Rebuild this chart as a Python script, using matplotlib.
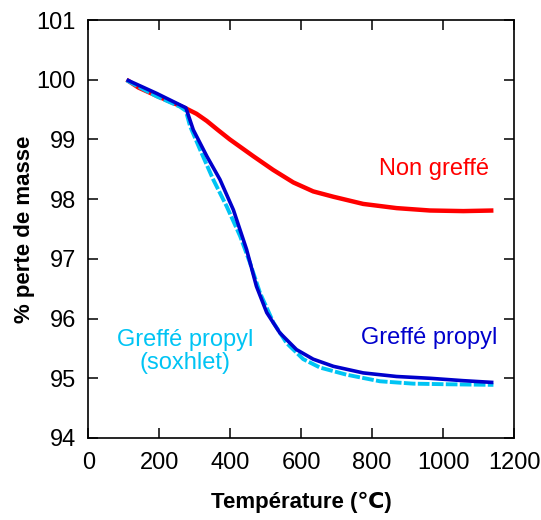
import numpy as np
import matplotlib
matplotlib.use("Agg")
import matplotlib.pyplot as plt

plt.rcParams['font.family'] = ['Liberation Sans', 'DejaVu Sans']

# temperature (C) and mass (%)
t_non = [108, 141, 193, 240, 275, 305, 334, 365, 399, 432, 465, 521, 578, 634, 691, 775, 869, 963, 1057, 1142]
m_non = [100.0, 99.87, 99.73, 99.61, 99.52, 99.43, 99.31, 99.16, 99.0, 98.86, 98.72, 98.49, 98.28, 98.13, 98.04, 97.92, 97.85, 97.81, 97.80, 97.81]

t_prop = [108, 193, 275, 296, 334, 371, 409, 446, 474, 503, 540, 587, 634, 691, 775, 869, 963, 1057, 1142]
m_prop = [100.0, 99.77, 99.53, 99.16, 98.72, 98.33, 97.82, 97.16, 96.54, 96.10, 95.76, 95.48, 95.32, 95.20, 95.09, 95.03, 95.0, 94.96, 94.93]

t_sox = [108, 193, 258, 275, 287, 315, 352, 390, 428, 456, 484, 522, 559, 606, 653, 728, 822, 916, 1010, 1142]
m_sox = [99.99, 99.72, 99.55, 99.48, 99.22, 98.83, 98.33, 97.88, 97.38, 96.93, 96.43, 95.93, 95.59, 95.32, 95.18, 95.06, 94.95, 94.91, 94.90, 94.89]

fig = plt.figure(figsize=(5.41, 5.20), dpi=100)
ax = fig.add_axes([0.1632, 0.1577, 0.7869, 0.8038])

ax.plot(t_non, m_non, color='#ff0000', lw=3.2, solid_capstyle='butt')
ax.plot(t_sox, m_sox, color='#00c4f4', lw=2.8, ls=(0, (3, 0.6)))
ax.plot(t_prop, m_prop, color='#0000cc', lw=2.6, solid_capstyle='butt')

ax.text(974, 98.5, 'Non greffé', color='#ff0000', fontsize=17, ha='center', va='center')
ax.text(960, 95.68, 'Greffé propyl', color='#0000cc', fontsize=17, ha='center', va='center')
ax.text(272, 95.45, 'Greffé propyl\n(soxhlet)', color='#00c4f4', fontsize=17, ha='center', va='center',
        linespacing=1.1)

ax.set_xlim(0, 1200)
ax.set_ylim(94, 101)
ax.set_xticks(range(0, 1201, 200))
ax.set_yticks(range(94, 102))
for s in ax.spines.values():
    s.set_linewidth(1.2)
ax.tick_params(direction='in', top=True, right=True, labelsize=17, length=7, width=1.1)
ax.tick_params(axis='x', pad=10)
ax.tick_params(axis='y', pad=9)
ax.set_xlabel('Température (\u2103)', fontsize=16, fontweight='bold', labelpad=13)
ax.set_ylabel('% perte de masse', fontsize=16, fontweight='bold', labelpad=1)

plt.savefig('out.png', dpi=100)
